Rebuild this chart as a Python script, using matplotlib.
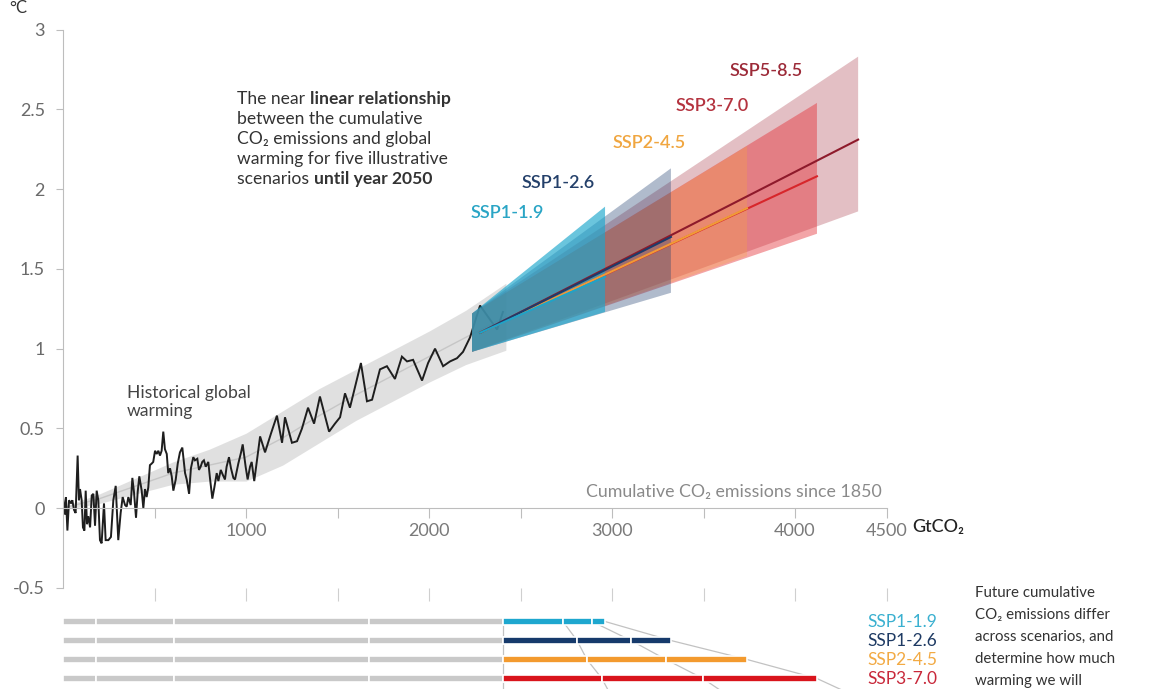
import matplotlib
matplotlib.use("Agg")
import matplotlib.pyplot as plt

plt.rcParams["font.family"] = ["Lato", "DejaVu Sans"]

W, H = 1149, 689

# ---- historical warming against cumulative CO2 emissions since 1850 ----
hist_cum = [0, 2, 11, 16, 24, 33, 44, 51, 60, 69, 80, 87, 93, 102, 109, 117, 124, 131, 138, 148,
            157, 166, 175, 184, 193, 202, 211, 224, 233, 248, 262, 275, 288, 302, 315, 326, 339, 348, 357, 370,
            379, 388, 399, 408, 417, 430, 439, 448, 457, 466, 475, 485, 493, 503, 512, 521, 530, 539, 548, 557,
            567, 575, 585, 594, 603, 616, 627, 639, 652, 667, 676, 689, 699, 712, 721, 734, 743, 752, 761, 770,
            780, 794, 803, 816, 827, 840, 849, 862, 873, 885, 894, 907, 918, 931, 940, 958, 973, 982, 991, 998,
            1009, 1022, 1031, 1045, 1077, 1104, 1137, 1169, 1197, 1213, 1251, 1279, 1306, 1339, 1372, 1404,
            1454, 1486, 1514, 1541, 1568, 1596, 1628, 1661, 1689, 1732, 1770, 1814, 1852, 1880, 1913, 1962,
            1995, 2033, 2077, 2115, 2153, 2186, 2224, 2279, 2372, 2404]
hist_temp = [0.07, 0.05, -0.04, 0.07, -0.14, 0.05, 0.03, 0.05, -0.01, -0.03, 0.33, 0.05, 0.12, 0.05, -0.12,
             -0.14, 0.11, -0.10, -0.05, -0.12, 0.08, 0.09, -0.11, 0.11, 0.05, -0.20, -0.22, 0.03, -0.20, -0.20,
             -0.18, 0.05, 0.14, -0.20, -0.03, 0.07, 0.02, 0.01, 0.07, 0.02, 0.19, 0.10, -0.06, 0.10, 0.20,
             0.11, 0.00, 0.12, 0.07, 0.13, 0.27, 0.28, 0.29, 0.36, 0.34, 0.36, 0.33, 0.36, 0.48, 0.37,
             0.34, 0.22, 0.25, 0.20, 0.11, 0.18, 0.28, 0.35, 0.38, 0.22, 0.18, 0.09, 0.25, 0.32, 0.30,
             0.31, 0.24, 0.26, 0.29, 0.30, 0.26, 0.29, 0.19, 0.06, 0.13, 0.22, 0.17, 0.24, 0.21, 0.18,
             0.26, 0.32, 0.25, 0.19, 0.18, 0.28, 0.35, 0.40, 0.32, 0.26, 0.18, 0.26, 0.29, 0.17, 0.45,
             0.35, 0.47, 0.58, 0.41, 0.57, 0.41, 0.42, 0.50, 0.63, 0.53, 0.70, 0.48, 0.53, 0.57, 0.72,
             0.63, 0.76, 0.91, 0.67, 0.68, 0.87, 0.89, 0.81, 0.95, 0.92, 0.93, 0.80, 0.91, 1.00, 0.89,
             0.92, 0.94, 0.98, 1.07, 1.27, 1.12, 1.23]

# smoothed historical relationship and its uncertainty band
band_cum = [0, 200, 400, 600, 800, 1000, 1200, 1400, 1600, 1800, 2000, 2200, 2420]
band_mid = [0.0, 0.06, 0.14, 0.22, 0.27, 0.32, 0.44, 0.58, 0.71, 0.83, 0.95, 1.07, 1.20]
band_half = [0.01, 0.03, 0.05, 0.07, 0.10, 0.15, 0.17, 0.17, 0.16, 0.16, 0.16, 0.17, 0.21]

# ---- scenarios until 2050 ----
scenarios = ["SSP1-1.9", "SSP1-2.6", "SSP2-4.5", "SSP3-7.0", "SSP5-8.5"]
fan_colors = ["#1aa6cc", "#1d3d6e", "#f7a440", "#e3262d", "#9b1b2b"]
fan_alpha = [0.65, 0.35, 0.30, 0.42, 0.28]
line_colors = ["#1fa3c8", "#1e3b6a", "#f09a36", "#d7262b", "#8e1a2b"]
label_colors = ["#2aa5c5", "#24406a", "#f0a640", "#b4333f", "#9c2a38"]
bar_colors = ["#1ea7cf", "#163a6b", "#f39a2e", "#d9141c", "#8e1c25"]
legend_colors = ["#3ab0d0", "#1e3a63", "#f2aa44", "#c8283a"]

fan_start_cum = 2235
fan_start_lo, fan_start_hi = 0.98, 1.22
fan_end_cum = [2962, 3322, 3738, 4120, 4345]
fan_end_lo = [1.23, 1.35, 1.58, 1.72, 1.86]
fan_end_hi = [1.89, 2.13, 2.27, 2.54, 2.83]
line_start_cum, line_start_temp = 2280, 1.10
line_end_temp = [1.45, 1.70, 1.88, 2.08, 2.31]

# cumulative emissions reached at the decade marks
hist_marks = [180, 607, 1672]
emis_2020 = 2404
emis_2030 = [2732, 2809, 2863, 2945, 3000]
emis_2040 = [2891, 3104, 3295, 3497, 3650]
emis_2050 = fan_end_cum

x_ticks = [500, 1000, 1500, 2000, 2500, 3000, 3500, 4000, 4500]
x_labels = ["", "1000", "", "2000", "", "3000", "", "4000", "4500"]
y_ticks = [-0.5, 0, 0.5, 1, 1.5, 2, 2.5, 3]
y_labels = ["-0.5", "0", "0.5", "1", "1.5", "2", "2.5", "3"]

XMAX = 4700
px_per_gt = 0.183
ax_left = 63 / W
ax_width = px_per_gt * XMAX / W

fig = plt.figure(figsize=(W / 100, H / 100), dpi=100)

# main panel: y from -0.5 (588 px) to 3 (29.5 px)
ax = fig.add_axes([ax_left, (H - 588) / H, ax_width, (588 - 29.5) / H])
ax.set_xlim(0, XMAX)
ax.set_ylim(-0.5, 3)

grey_axis = "#bdbdbd"
for s in ("top", "right"):
    ax.spines[s].set_visible(False)
ax.spines["left"].set_color(grey_axis)
ax.spines["bottom"].set_position(("data", 0))
ax.spines["bottom"].set_bounds(0, 4500)
ax.spines["bottom"].set_color(grey_axis)

ax.set_xticks(x_ticks)
ax.set_xticklabels(x_labels)
ax.set_yticks(y_ticks)
ax.set_yticklabels(y_labels)
ax.tick_params(axis="x", length=7, color=grey_axis, labelcolor="#7a7a7a", labelsize=13, pad=4)
ax.tick_params(axis="y", length=5, color=grey_axis, labelcolor="#6a6a6a", labelsize=13, pad=8)

# tick row under the main panel
sec = ax.secondary_xaxis(0)
sec.set_xticks(x_ticks)
sec.tick_params(length=9, color="#cfcfcf", labelbottom=False)
sec.spines["bottom"].set_visible(False)

# historical band, mean curve and observed warming
lo = [m - h for m, h in zip(band_mid, band_half)]
hi = [m + h for m, h in zip(band_mid, band_half)]
ax.fill_between(band_cum, lo, hi, color="#d9d9d9", alpha=0.8, lw=0, zorder=1)
ax.plot(band_cum, band_mid, color="#c6c6c6", lw=1.0, zorder=1.5)
ax.plot(hist_cum, hist_temp, color="#1e1e1e", lw=1.4, zorder=2, solid_joinstyle="miter")

# scenario fans, high emissions underneath
for i in reversed(range(len(scenarios))):
    xs = [fan_start_cum, fan_end_cum[i], fan_end_cum[i], fan_start_cum]
    ys = [fan_start_lo, fan_end_lo[i], fan_end_hi[i], fan_start_hi]
    ax.fill(xs, ys, color=fan_colors[i], alpha=fan_alpha[i], lw=0, zorder=3 + (4 - i) * 0.1)

for i in reversed(range(len(scenarios))):
    ax.plot([line_start_cum, fan_end_cum[i]], [line_start_temp, line_end_temp[i]],
            color=line_colors[i], lw=1.5, zorder=4)

label_pos = [(2426, 1.85), (2705, 2.04), (3205, 2.29), (3550, 2.52), (3840, 2.74)]
for name, (lx, ly), c in zip(scenarios, label_pos, label_colors):
    ax.text(lx, ly, name, color=c, fontsize=13, fontweight="semibold",
            ha="center", va="center", zorder=6)

ax.text(4475, 0.1, "Cumulative CO\u2082 emissions since 1850", color="#8a8a8a", fontsize=12.8,
        ha="right", va="center")
ax.text(4640, -0.12, "GtCO\u2082", color="#222222", fontsize=13, fontweight="medium",
        ha="left", va="center")

# ---- text helpers in figure pixels ----
renderer = fig.canvas.get_renderer()


def px_text(x, y, s, **kw):
    return fig.text(x / W, 1 - y / H, s, **kw)


def text_width(s, **kw):
    t = fig.text(0, 0, s, **kw)
    w = t.get_window_extent(renderer).width
    t.remove()
    return w


def rich_line(x, y, parts, size, color):
    for s, weight in parts:
        kw = dict(fontsize=size, fontweight=weight, color=color)
        px_text(x, y, s, va="baseline", ha="left", **kw)
        x += text_width("x" + s + "x", **kw) - text_width("xx", **kw)


note = [
    [("The near ", "normal"), ("linear relationship", "bold")],
    [("between the cumulative", "normal")],
    [("CO\u2082 emissions and global", "normal")],
    [("warming for five illustrative", "normal")],
    [("scenarios ", "normal"), ("until year 2050", "bold")],
]
for k, parts in enumerate(note):
    rich_line(237, 104 + 20 * k, parts, 12.6, "#333333")

px_text(127, 398, "Historical global", fontsize=12.6, color="#444444", va="baseline")
px_text(127, 416, "warming", fontsize=12.6, color="#444444", va="baseline")

px_text(18, 13, "\u00b0C", fontsize=12, color="#333333", ha="center", va="baseline")

side = ["Future cumulative", "CO\u2082 emissions differ", "across scenarios, and",
        "determine how much", "warming we will"]
for k, s in enumerate(side):
    px_text(975, 597 + 22 * k, s, fontsize=10.8, color="#333333", va="baseline")

for k, (s, c) in enumerate(zip(scenarios[:4], legend_colors)):
    px_text(867, 627 + 19 * k, s, fontsize=12.5, color=c, va="baseline")

# ---- emission bars: rows 0..4, 19 px apart starting at 621.5 px ----
bx = fig.add_axes([ax_left, (H - 716.5) / H, ax_width, 104.5 / H])
bx.set_xlim(0, XMAX)
bx.set_ylim(5.0, -0.5)
bx.axis("off")

rows = list(range(len(scenarios)))
bar_h = 0.42
hist_edges = [0] + hist_marks + [emis_2020]
for r in rows:
    for a, b in zip(hist_edges[:-1], hist_edges[1:]):
        bx.barh(r, b - a, left=a, height=bar_h, color="#c9c9c9", edgecolor="white", lw=1.2, zorder=3)
    edges = [emis_2020, emis_2030[r], emis_2040[r], emis_2050[r]]
    for a, b in zip(edges[:-1], edges[1:]):
        bx.barh(r, b - a, left=a, height=bar_h, color=bar_colors[r], edgecolor="white", lw=1.2, zorder=3)

for marks in ([emis_2020] * len(rows), emis_2030, emis_2040, emis_2050):
    bx.plot(marks, rows, color="#c2c2c2", lw=0.9, zorder=1)

fig.savefig("out.png", dpi=100)
